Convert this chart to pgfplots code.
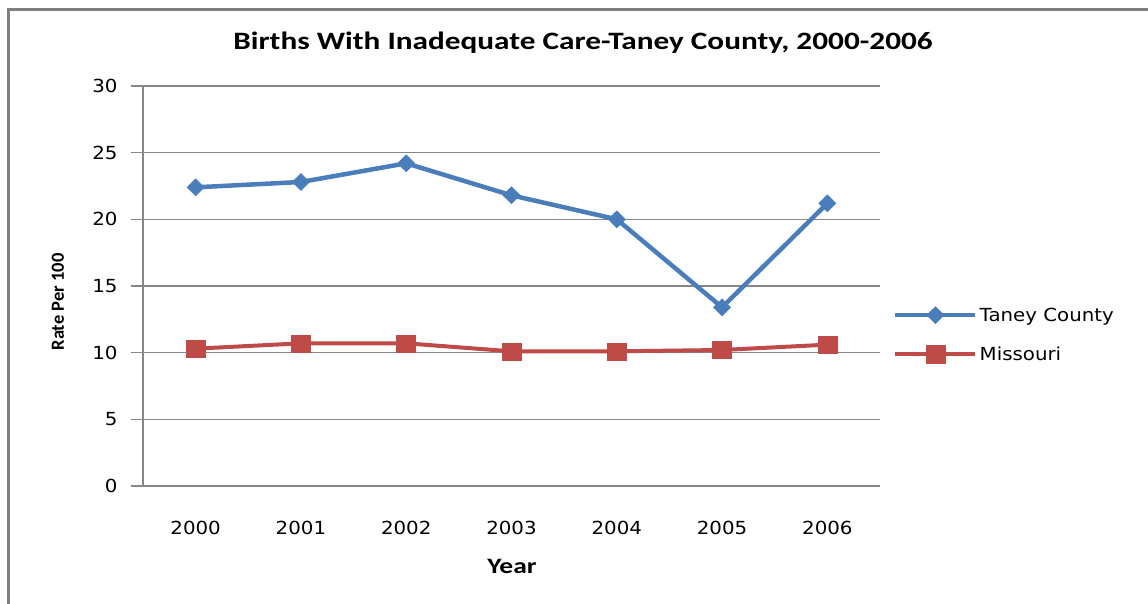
\documentclass[border=0pt]{standalone}
\usepackage{fontspec}
\setmainfont{Carlito}
\newfontfamily\verd[FakeStretch=1.1]{DejaVu Sans}
\newfontfamily\titlef[FakeStretch=1.25]{Carlito}
\usepackage{pgfplots}
\pgfplotsset{compat=1.18}
\definecolor{tblue}{HTML}{4A7EBB}
\definecolor{mred}{HTML}{BE4B48}
\definecolor{gridg}{HTML}{868686}
\definecolor{frameg}{HTML}{808080}
\begin{document}
\begin{tikzpicture}[x=1pt,y=1pt]
\path[use as bounding box] (0,0) rectangle (1148,604);
\draw[frameg,line width=3pt] (8,-5) -- (8,594) -- (1160,594);
\node[font=\titlef\bfseries\fontsize{25}{25}\selectfont] at (583,561) {Births With Inadequate Care-Taney County, 2000-2006};
\node[font=\bfseries\fontsize{18.5}{18.5}\selectfont,rotate=90] at (58,302) {Rate Per 100};
\node[font=\titlef\bfseries\fontsize{22}{22}\selectfont] at (512,38) {Year};
\begin{axis}[
  at={(143pt,118pt)}, anchor=south west,
  scale only axis, width=737pt, height=400pt,
  xmin=-0.5, xmax=6.5, ymin=0, ymax=30,
  xtick={0,...,6}, xticklabels={2000,2001,2002,2003,2004,2005,2006},
  ytick={0,5,...,30},
  axis lines*=left,
  axis line style={gridg, line width=1.2pt},
  ymajorgrids, grid style={gridg, line width=1.2pt},
  x tick style={draw=none},
  y tick style={gridg, line width=1.2pt},
  tick align=outside, major tick length=12pt,
  tick label style={font=\verd\fontsize{18}{18}\selectfont},
  /pgf/number format/assume math mode=true,
  /pgf/number format/1000 sep={},
  xticklabel style={yshift=-20pt},
  yticklabel style={xshift=-10pt},
  legend style={at={(1.0176,0.378)}, anchor=west, draw=none, fill=none,
    font=\verd\fontsize{18}{18}\selectfont, row sep=20pt, inner sep=0pt,
    /tikz/every even column/.append style={column sep=3pt}},
  legend cell align=left,
  legend image code/.code={
    \draw[#1, mark repeat=2, mark phase=2] plot coordinates {(0pt,0pt) (40pt,0pt) (80pt,0pt)};
  },
]
\addplot[tblue, line width=4.5pt, mark=diamond*, mark size=8.5pt, mark options={line width=0.5pt, fill=tblue, xscale=1.35}]
  coordinates {(0,22.4) (1,22.8) (2,24.2) (3,21.8) (4,20.0) (5,13.4) (6,21.2)};
\addlegendentry{Taney County}
\addplot[mred, line width=4pt, mark=square*, mark size=9.5pt, mark options={line width=0.5pt, fill=mred, yscale=0.9}]
  coordinates {(0,10.3) (1,10.7) (2,10.7) (3,10.1) (4,10.1) (5,10.2) (6,10.6)};
\addlegendentry{Missouri}
\end{axis}
\end{tikzpicture}
\end{document}
